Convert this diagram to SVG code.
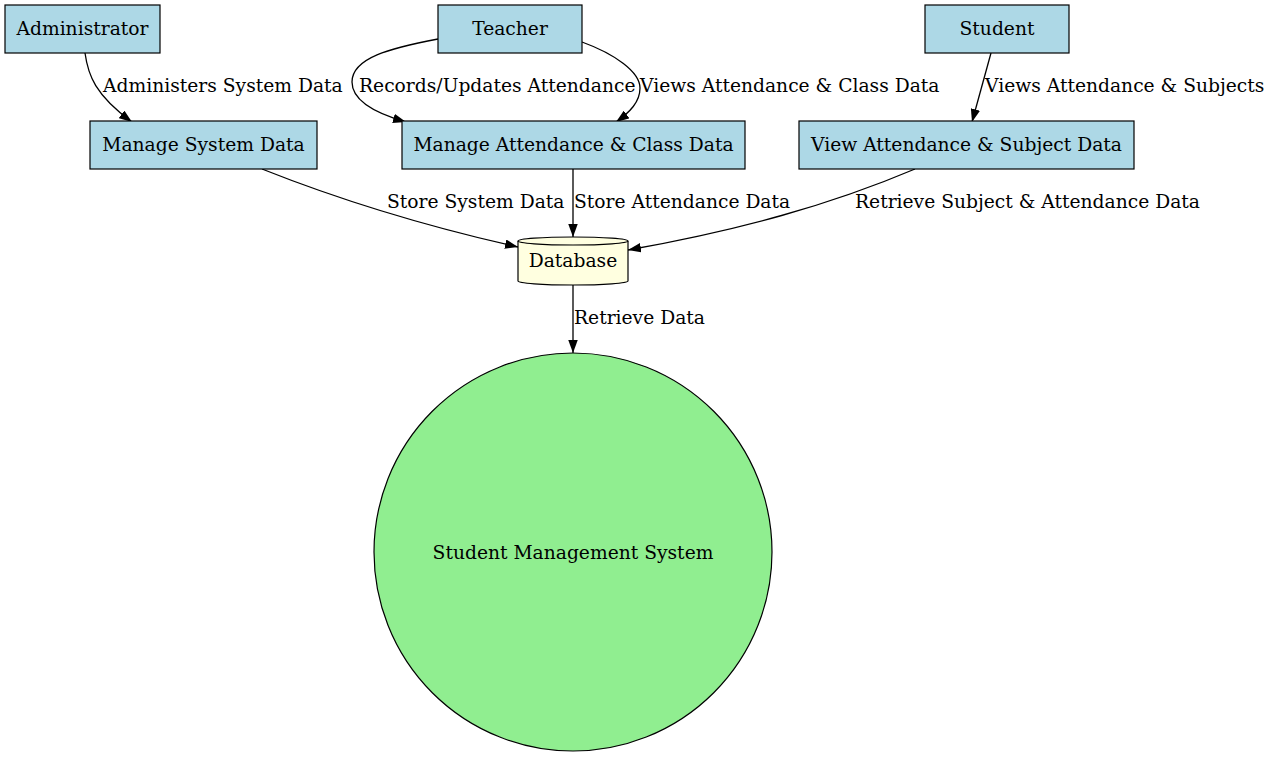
<svg xmlns="http://www.w3.org/2000/svg" width="1271" height="757" viewBox="0 0 1271 757">
<style>
text{font-family:"DejaVu Serif","Liberation Serif",serif;font-size:18.7px;fill:#000}
.n{text-anchor:middle}
.box{fill:#add8e6;stroke:#000;stroke-width:1.2}
.e{fill:none;stroke:#000;stroke-width:1.3}
</style>
<defs>
<marker id="ah" viewBox="0 0 13 9.5" refX="13" refY="4.75" markerWidth="13" markerHeight="9.5" markerUnits="userSpaceOnUse" orient="auto">
<path d="M0,0L13,4.75L0,9.5z" fill="#000"/>
</marker>
</defs>
<rect width="1271" height="757" fill="#fff"/>
<g id="edges">
<path class="e" marker-end="url(#ah)" d="M85,53C88,75 95,95 132,122"/>
<path class="e" marker-end="url(#ah)" d="M438,39C390,48 352,58 352,82C352,102 378,114 406,122"/>
<path class="e" marker-end="url(#ah)" d="M582,42C615,54 640,72 640,88C640,102 630,112 616,122"/>
<path class="e" marker-end="url(#ah)" d="M991,53L972,122"/>
<path class="e" marker-end="url(#ah)" d="M262,169C340,200 420,225 518,247"/>
<path class="e" marker-end="url(#ah)" d="M573,169L573,237"/>
<path class="e" marker-end="url(#ah)" d="M915,169C830,205 740,230 628,250"/>
<path class="e" marker-end="url(#ah)" d="M573,285L573,353"/>
<text x="103" y="92">Administers System Data</text>
<text x="359" y="92">Records/Updates Attendance</text>
<text x="640" y="92">Views Attendance &amp; Class Data</text>
<text x="985" y="92">Views Attendance &amp; Subjects</text>
<text x="387" y="208">Store System Data</text>
<text x="574" y="208">Store Attendance Data</text>
<text x="855" y="208">Retrieve Subject &amp; Attendance Data</text>
<text x="574" y="324">Retrieve Data</text>
</g>
<g id="administrator"><rect class="box" x="5" y="5" width="155" height="48"/><text class="n" x="82.5" y="34.5">Administrator</text></g>
<g id="teacher"><rect class="box" x="438" y="5" width="144" height="48"/><text class="n" x="510" y="34.5">Teacher</text></g>
<g id="student"><rect class="box" x="925" y="5" width="144" height="48"/><text class="n" x="997" y="34.5">Student</text></g>
<g id="manage-system"><rect class="box" x="90" y="121" width="227" height="48"/><text class="n" x="203.5" y="150.5">Manage System Data</text></g>
<g id="manage-attendance"><rect class="box" x="402" y="121" width="343" height="48"/><text class="n" x="573.5" y="150.5">Manage Attendance &amp; Class Data</text></g>
<g id="view-attendance"><rect class="box" x="799" y="121" width="335" height="48"/><text class="n" x="966.5" y="150.5">View Attendance &amp; Subject Data</text></g>
<g id="database">
<path d="M518,241A55,4 0 0 1 628,241L628,281A55,4 0 0 1 518,281Z" fill="#ffffe0" stroke="#000" stroke-width="1.2"/>
<path d="M518,241A55,4 0 0 0 628,241" fill="none" stroke="#000" stroke-width="1.2"/>
<text class="n" x="573" y="266.5">Database</text>
</g>
<g id="sms"><circle cx="573" cy="552" r="199" fill="#90ee90" stroke="#000" stroke-width="1.2"/><text class="n" x="573" y="558.5">Student Management System</text></g>
</svg>
